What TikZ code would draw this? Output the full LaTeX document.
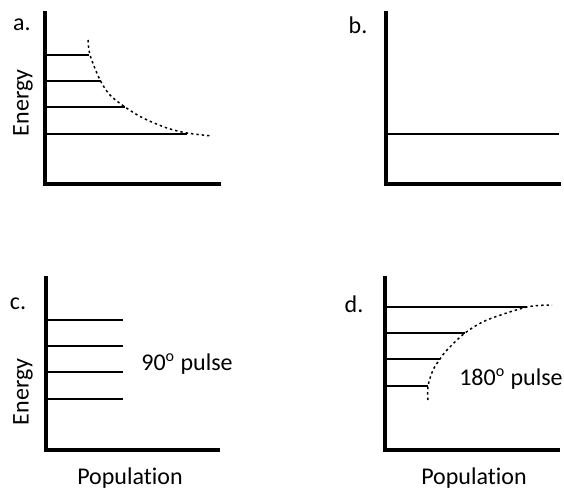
\documentclass[tikz,border=0pt]{standalone}
\usepackage{fontspec}
\setmainfont{Carlito}[RawFeature={-liga;-clig;-calt;-dlig}]
\usepackage{tikz}

\begin{document}
\begin{tikzpicture}[x=0.5pt,y=-0.5pt,
  axis/.style={line width=2pt,line cap=rect},
  level/.style={line width=0.9pt},
  curve/.style={line width=0.75pt,dash pattern=on 1.2pt off 1.5pt},
  lab/.style={font=\fontsize{12}{14}\selectfont,inner sep=0pt},
  ylab/.style={lab,rotate=90}]
\useasboundingbox (0,0) rectangle (564,488);
% (a) thermal equilibrium
\draw[axis] (45,13) -- (45,184) -- (219,184);
\draw[level] (45,55) -- (89,55);
\draw[level] (45,81) -- (101,81);
\draw[level] (45,107) -- (125,107);
\draw[level] (45,134) -- (187,134);
\draw[curve] plot[smooth] coordinates {(88,40) (90,55) (100,80) (110,95) (125,107) (143,118) (167,128) (187,133) (212,136)};
\node[lab] (la) at (22,25) {a.};
\node[ylab] (ea) at (23,103) {Energy};
% (b) single level
\draw[axis] (386,13) -- (386,184) -- (559,184);
\draw[level] (386,134) -- (559,134);
\node[lab] (lb) at (358,25) {b.};
% (c) after 90 degree pulse
\draw[axis] (46,278) -- (46,450) -- (218,450);
\draw[level] (46,320) -- (123,320);
\draw[level] (46,346) -- (123,346);
\draw[level] (46,372) -- (123,372);
\draw[level] (46,399) -- (123,399);
\node[lab] (lc) at (18,304) {c.};
\node[ylab] (ec) at (23,392) {Energy};
\node[lab] (pc) at (187,364) {90\textsuperscript{o} pulse};
\node[lab] (xc) at (130,478) {Population};
% (d) after 180 degree pulse
\draw[axis] (385,278) -- (385,450) -- (558,450);
\draw[level] (385,307) -- (527,307);
\draw[level] (385,333) -- (465,333);
\draw[level] (385,359) -- (440,359);
\draw[level] (385,386) -- (428,386);
\draw[curve] plot[smooth] coordinates {(428,400) (428,386) (433,370) (440,359) (447,350) (465,333) (487,320) (527,307) (552,305)};
\node[lab] (ld) at (354,304) {d.};
\node[lab] (pd) at (511,379) {180\textsuperscript{o} pulse};
\node[lab] (xd) at (474,478) {Population};
\end{tikzpicture}
\end{document}
